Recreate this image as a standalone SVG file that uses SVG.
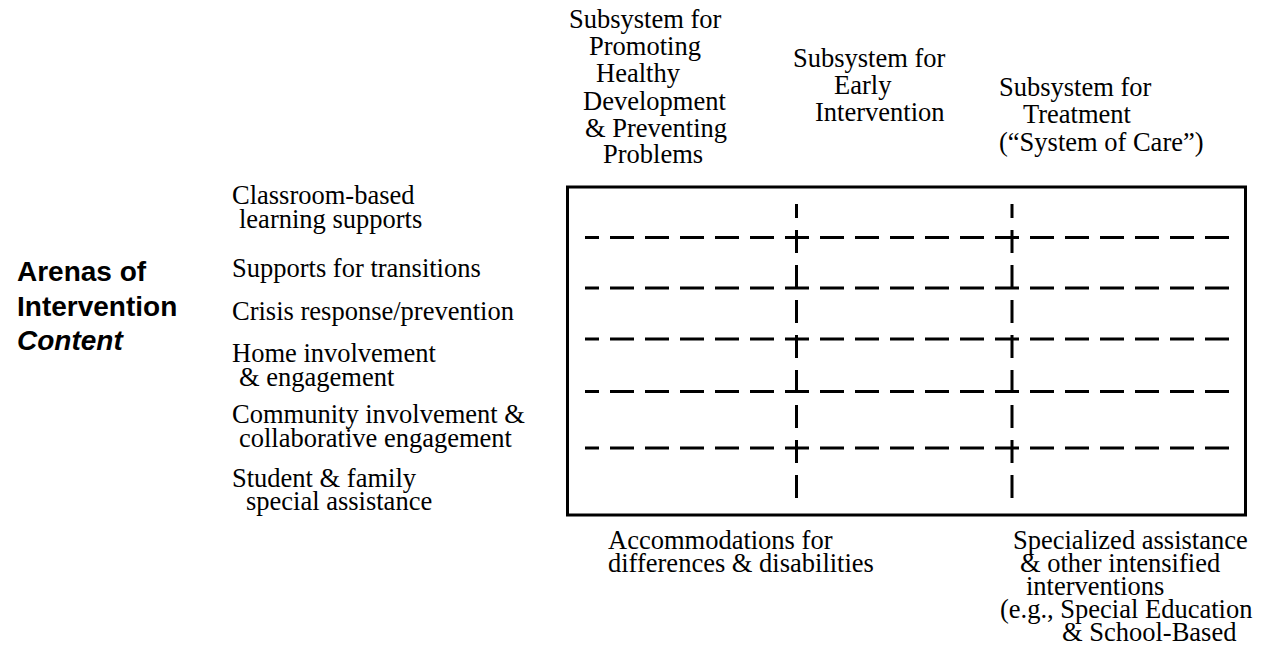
<svg xmlns="http://www.w3.org/2000/svg" width="1265" height="665" viewBox="0 0 1265 665">
<style>
  .t { font-family: "Liberation Serif", "Times New Roman", serif; font-size: 26.5px; fill: #000; }
  .h { font-family: "Liberation Sans", Arial, sans-serif; font-size: 28px; font-weight: bold; fill: #000; }
  .hi { font-style: italic; }
  .frame { fill: none; stroke: #000; stroke-width: 3; }
  .hd { stroke: #000; stroke-width: 3; stroke-dasharray: 24 11; stroke-dashoffset: 10; fill: none; }
  .vd { stroke: #000; stroke-width: 3; stroke-dasharray: 23 12; stroke-dashoffset: 9; fill: none; }
</style>
<rect width="1265" height="665" fill="#fff"/>

<g id="title">
  <text class="h" x="17" y="281">Arenas of</text>
  <text class="h" x="17" y="316">Intervention</text>
  <text class="h hi" x="17" y="350">Content</text>
</g>

<g id="arenas">
  <text class="t" x="232" y="204">Classroom-based</text>
  <text class="t" x="239" y="228">learning supports</text>
  <text class="t" x="232" y="277">Supports for transitions</text>
  <text class="t" x="232" y="320">Crisis response/prevention</text>
  <text class="t" x="232" y="362">Home involvement</text>
  <text class="t" x="239" y="386">&amp; engagement</text>
  <text class="t" x="232" y="423">Community involvement &amp;</text>
  <text class="t" x="239" y="447">collaborative engagement</text>
  <text class="t" x="232" y="487">Student &amp; family</text>
  <text class="t" x="246" y="510">special assistance</text>
</g>

<g id="col-promoting">
  <text class="t" x="569" y="28">Subsystem for</text>
  <text class="t" x="589" y="55">Promoting</text>
  <text class="t" x="596" y="82">Healthy</text>
  <text class="t" x="583" y="110">Development</text>
  <text class="t" x="585" y="137">&amp; Preventing</text>
  <text class="t" x="603" y="163">Problems</text>
</g>

<g id="col-early">
  <text class="t" x="793" y="67">Subsystem for</text>
  <text class="t" x="834" y="94">Early</text>
  <text class="t" x="815" y="121">Intervention</text>
</g>

<g id="col-treatment">
  <text class="t" x="999" y="96">Subsystem for</text>
  <text class="t" x="1023" y="123">Treatment</text>
  <text class="t" x="999" y="151">(“System of Care”)</text>
</g>

<g id="matrix">
  <rect class="frame" x="567.5" y="187" width="678" height="328"/>
</g>

<g id="connectors">
  <line class="hd" x1="585" y1="237.5" x2="1230" y2="237.5"/>
  <line class="hd" x1="585" y1="288" x2="1230" y2="288"/>
  <line class="hd" x1="585" y1="339" x2="1230" y2="339"/>
  <line class="hd" x1="585" y1="391.5" x2="1230" y2="391.5"/>
  <line class="hd" x1="585" y1="448" x2="1230" y2="448"/>
  <line class="vd" x1="796.5" y1="204" x2="796.5" y2="498"/>
  <line class="vd" x1="1012" y1="204" x2="1012" y2="498"/>
</g>

<g id="accommodations">
  <text class="t" x="608" y="549">Accommodations for</text>
  <text class="t" x="608" y="572">differences &amp; disabilities</text>
</g>

<g id="specialized">
  <text class="t" x="1013" y="549">Specialized assistance</text>
  <text class="t" x="1020" y="572">&amp; other intensified</text>
  <text class="t" x="1026" y="595">interventions</text>
  <text class="t" x="1000" y="618">(e.g., Special Education</text>
  <text class="t" x="1062" y="641">&amp; School-Based</text>
</g>
</svg>
